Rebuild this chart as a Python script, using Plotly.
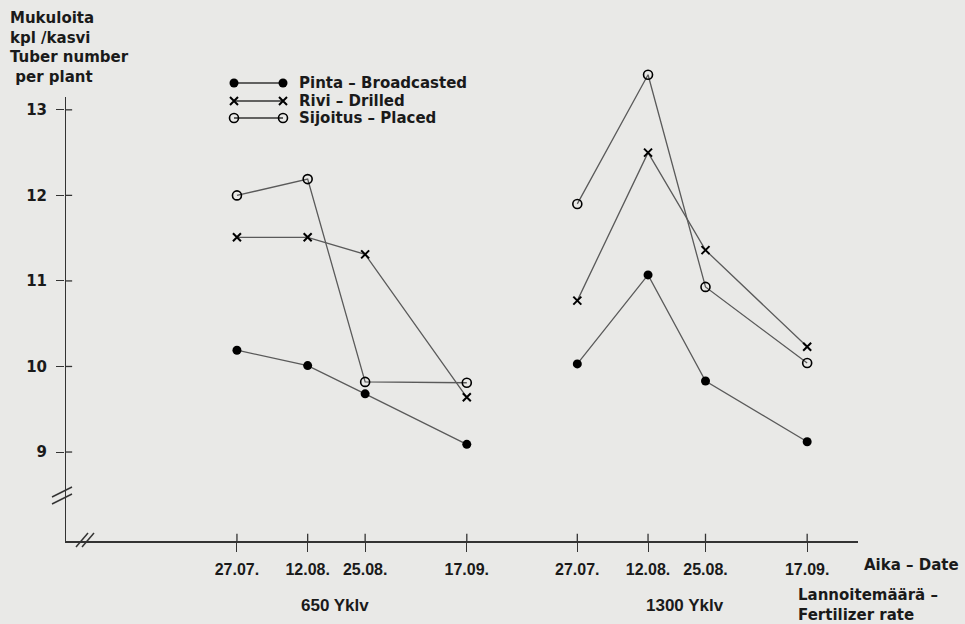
import datetime
import plotly.graph_objects as go

# ---- data ----
dates = ["27.07.", "12.08.", "25.08.", "17.09."]
rates = ["650 Yklv", "1300 Yklv"]
pinta_650 = [10.19, 10.01, 9.68, 9.09]
pinta_1300 = [10.03, 11.07, 9.83, 9.12]
rivi_650 = [11.51, 11.51, 11.31, 9.64]
rivi_1300 = [10.77, 12.50, 11.36, 10.23]
sijoitus_650 = [12.00, 12.19, 9.82, 9.81]
sijoitus_1300 = [11.90, 13.41, 10.93, 10.04]
series_names = ["Pinta – Broadcasted", "Rivi – Drilled", "Sijoitus – Placed"]
y_ticks = [9, 10, 11, 12, 13]

# ---- layout constants ----
GROUP_OFFSET = 77  # days between the two fertilizer-rate panels
FONT = "DejaVu Sans"
NARROW = "Liberation Sans Narrow, Liberation Sans"
BG = "#e9e9e7"
LINE = "#5a5a5a"
INK = "#1a1a1a"
L, R, T, B = 65, 858, 20, 541  # plot area in page pixels


def px(x):
    return (x - L) / (R - L)


def py(y):
    return (B - y) / (B - T)


def doy(d):
    return datetime.datetime.strptime(d + "2001", "%d.%m.%Y").timetuple().tm_yday


days = [doy(d) for d in dates]
x1 = days
x2 = [d + GROUP_OFFSET for d in days]
xs = x1 + [None] + x2

fig = go.Figure()
styles = [
    dict(symbol="circle", size=9, color="black", line=dict(width=0)),
    dict(symbol="x-thin", size=8, color="black", line=dict(width=2, color="black")),
    dict(symbol="circle-open", size=9, color="black", line=dict(width=1.6, color="black")),
]
vals = [(pinta_650, pinta_1300), (rivi_650, rivi_1300), (sijoitus_650, sijoitus_1300)]
for name, (a, b), m in zip(series_names, vals, styles):
    fig.add_trace(go.Scatter(
        x=xs, y=list(a) + [None] + list(b), mode="lines+markers", name=name,
        line=dict(color=LINE, width=1.3), marker=m, connectgaps=False, showlegend=False,
    ))

# legend drawn on an overlay axis in page-pixel units (markers at both ends)
legend_rows = [83, 101, 118]
for name, m, row in zip(series_names, styles, legend_rows):
    fig.add_trace(go.Scatter(
        x=[234, 283], y=[row, row], mode="lines+markers", xaxis="x2", yaxis="y2",
        line=dict(color="#333", width=1.3), marker=m, showlegend=False, hoverinfo="skip",
    ))
    fig.add_annotation(xref="paper", yref="paper", x=px(297), y=py(row), xanchor="left",
                       yanchor="middle", showarrow=False, text=name,
                       font=dict(size=15, family=FONT, weight="bold", color=INK))

x_range = [169.1, 348.5]
y_range = [7.96, 14.05]

fig.update_layout(
    width=965, height=624,
    margin=dict(l=L, r=965 - R, t=T, b=624 - B),
    paper_bgcolor=BG, plot_bgcolor=BG,
    font=dict(family=FONT, size=14, color=INK, weight="bold"),
    showlegend=False,
    xaxis=dict(range=x_range, showgrid=False, zeroline=False, showline=True,
               linecolor="#333", linewidth=2,
               tickvals=x1 + x2, ticktext=dates + dates, ticks="outside", ticklen=9,
               tickcolor="#333", tickwidth=1.3, ticklabelstandoff=4,
               tickfont=dict(size=16, family=NARROW, weight="bold", color=INK)),
    yaxis=dict(range=y_range, showgrid=False, zeroline=False, showline=False,
               tickvals=y_ticks, ticktext=[str(v) for v in y_ticks], ticks="outside",
               ticklen=8, tickcolor="#333", tickwidth=1.3, ticklabelstandoff=6,
               tickfont=dict(size=15, family=FONT, weight="bold", color=INK)),
    xaxis2=dict(range=[L, R], domain=[0, 1], overlaying="x", visible=False),
    yaxis2=dict(range=[B, T], domain=[0, 1], overlaying="y", visible=False),
)

# y-axis line (only up to just above the top tick)
fig.add_shape(type="line", xref="x", yref="y", x0=x_range[0], x1=x_range[0],
              y0=y_range[0], y1=13.15, line=dict(color="#333", width=2))
# tick marks crossing to the inside as well
for v in y_ticks:
    fig.add_shape(type="line", xref="paper", yref="y", x0=0, x1=0.009, y0=v, y1=v,
                  line=dict(color="#333", width=1.3))
for v in x1 + x2:
    fig.add_shape(type="line", xref="x", yref="paper", x0=v, x1=v, y0=0, y1=0.014,
                  line=dict(color="#333", width=1.3))

# break marks
for dy in (0, 7):
    fig.add_shape(type="line", xref="paper", yref="paper",
                  x0=px(52), y0=py(497 + dy), x1=px(72), y1=py(487 + dy),
                  line=dict(color="#333", width=1.5))
for dx in (0, 6):
    fig.add_shape(type="line", xref="paper", yref="paper",
                  x0=px(76 + dx), y0=py(547), x1=px(88 + dx), y1=py(533),
                  line=dict(color="#333", width=1.5))

# texts
fig.add_annotation(xref="paper", yref="paper", x=px(8), y=py(7), xanchor="left",
                   yanchor="top", align="left", showarrow=False,
                   text="Mukuloita<br>kpl /kasvi<br>Tuber number<br> per plant",
                   font=dict(size=15, family=FONT, weight="bold", color=INK))
fig.add_annotation(xref="paper", yref="paper", x=px(862), y=py(565), xanchor="left",
                   yanchor="middle", showarrow=False, text="Aika – Date",
                   font=dict(size=15, family=FONT, weight="bold", color=INK))
fig.add_annotation(xref="paper", yref="paper", x=px(796), y=py(584), xanchor="left",
                   yanchor="top", align="left", showarrow=False,
                   text="Lannoitemäärä –<br>Fertilizer rate",
                   font=dict(size=15, family=FONT, weight="bold", color=INK))
centers = [sum(x1) / len(x1) - 2, sum(x2) / len(x2)]
for c, r in zip(centers, rates):
    fig.add_annotation(xref="x", yref="paper", x=c, y=py(605), xanchor="center",
                       yanchor="middle", showarrow=False, text=r,
                       font=dict(size=17, family=NARROW, weight="bold", color=INK))

fig.write_html("out.html", config={"displayModeBar": False},
               post_script="document.body.style.margin='0';")
